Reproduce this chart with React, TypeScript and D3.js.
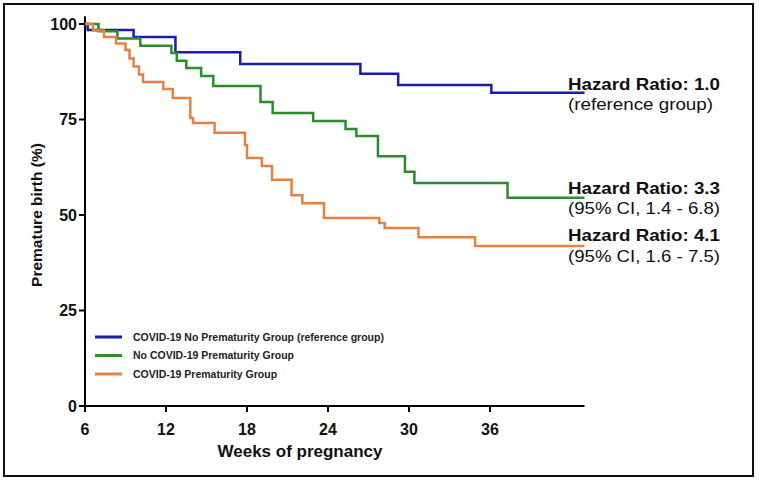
import React from "react";
import * as d3 from "d3";

const xTicks = [6, 12, 18, 24, 30, 36];
const yTicks = [0, 25, 50, 75, 100];

const blueWeeks = [6, 6.2, 9.6, 12.7, 17.5, 26.4, 29.2, 36.1];
const blueSurv = [100, 98.4, 96.6, 92.6, 89.5, 87.0, 84.0, 82.0];

const greenWeeks = [6, 7.0, 8.4, 10.1, 12.4, 12.8, 13.5, 14.6, 15.5, 19.0, 19.9, 22.9, 25.3, 26.1, 27.7, 29.7, 30.4, 37.3];
const greenSurv = [100, 98.1, 96.2, 94.3, 92.4, 90.4, 88.5, 86.4, 83.8, 79.6, 76.7, 74.6, 72.5, 70.7, 65.4, 61.3, 58.4, 54.5];

const orangeWeeks = [6, 6.6, 7.4, 8.3, 9.0, 9.3, 9.6, 10.0, 10.3, 11.8, 12.5, 13.8, 14.0, 15.6, 17.85, 18.0, 19.1, 19.85, 21.3, 22.1, 23.7, 27.8, 28.2, 30.7, 34.9];
const orangeSurv = [100, 98.3, 96.6, 94.9, 93.2, 91.0, 88.9, 86.8, 84.8, 83.0, 80.6, 75.4, 74.1, 71.5, 68.3, 64.9, 62.8, 59.2, 55.2, 53.1, 49.2, 47.9, 46.6, 44.2, 41.9];

const seriesNames = [
  "COVID-19 No Prematurity Group (reference group)",
  "No COVID-19 Prematurity Group",
  "COVID-19 Prematurity Group",
];
const hrTitles = ["Hazard Ratio: 1.0", "Hazard Ratio: 3.3", "Hazard Ratio: 4.1"];
const hrSubs = ["(reference group)", "(95% CI, 1.4 - 6.8)", "(95% CI, 1.6 - 7.5)"];

const X_MAX = 43;
const FONT = "'Liberation Sans', Arial, Helvetica, sans-serif";

export default function App() {
  const W = 759;
  const H = 482;
  const x = d3.scaleLinear().domain([6, X_MAX]).range([85, 584.5]);
  const y = d3.scaleLinear().domain([0, 100]).range([406, 24]);

  const series = [
    { weeks: blueWeeks, surv: blueSurv, color: "#1c1cb0" },
    { weeks: greenWeeks, surv: greenSurv, color: "#2a8c2a" },
    { weeks: orangeWeeks, surv: orangeSurv, color: "#e5823f" },
  ];

  const line = d3
    .line<[number, number]>()
    .x((d) => x(d[0]))
    .y((d) => y(d[1]))
    .curve(d3.curveStepAfter);

  const paths = series.map((s) => {
    const pts: [number, number][] = s.weeks.map((w, i) => [w, s.surv[i]]);
    pts.push([X_MAX, s.surv[s.surv.length - 1]]);
    return line(pts) || "";
  });

  const annY = [
    [90, 110],
    [194, 214],
    [241, 262],
  ];
  const titleLen = [152, 152, 152];
  const subLen = [145, 152, 152];

  return (
    <svg
      width={W}
      height={H}
      style={{ position: "absolute", left: 0, top: 0, background: "#fff" }}
      fontFamily={FONT}
    >
      <rect x={0} y={0} width={W} height={H} fill="#fff" />
      <rect x={4} y={4} width={749} height={472} fill="none" stroke="#111" strokeWidth={2} />

      {/* axes */}
      <line x1={x(6)} x2={x(6)} y1={y(102)} y2={y(0)} stroke="#000" strokeWidth={2} />
      <line x1={x(6) - 1} x2={x(X_MAX)} y1={y(0)} y2={y(0)} stroke="#000" strokeWidth={2} />
      {yTicks.map((t) => (
        <g key={"y" + t}>
          <line x1={x(6) - 6} x2={x(6)} y1={y(t)} y2={y(t)} stroke="#000" strokeWidth={2} />
          <text
            x={x(6) - 8}
            y={y(t)}
            dy="0.36em"
            textAnchor="end"
            fontSize={16}
            fontWeight="bold"
            fill="#111"
          >
            {t}
          </text>
        </g>
      ))}
      {xTicks.map((t) => (
        <g key={"x" + t}>
          <line x1={x(t)} x2={x(t)} y1={y(0)} y2={y(0) + 6} stroke="#000" strokeWidth={2} />
          <text x={x(t)} y={y(0) + 29} textAnchor="middle" fontSize={16} fontWeight="bold" fill="#111">
            {t}
          </text>
        </g>
      ))}
      <text x={300} y={457} textAnchor="middle" fontSize={17} fontWeight="bold" fill="#111">
        Weeks of pregnancy
      </text>
      <text
        transform={`translate(42,215) rotate(-90)`}
        textAnchor="middle"
        fontSize={15.5}
        fontWeight="bold"
        fill="#111"
      >
        Premature birth (%)
      </text>

      {/* curves */}
      {paths.map((p, i) => (
        <path key={i} d={p} fill="none" stroke={series[i].color} strokeWidth={2.5} />
      ))}

      {/* legend */}
      {seriesNames.map((n, i) => (
        <g key={n}>
          <line x1={95} x2={122} y1={337 + i * 18.5} y2={337 + i * 18.5} stroke={series[i].color} strokeWidth={3} />
          <text x={133} y={337 + i * 18.5} dy="0.35em" fontSize={10.5} fontWeight="bold" fill="#222">
            {n}
          </text>
        </g>
      ))}

      {/* annotations */}
      {hrTitles.map((t, i) => (
        <g key={t}>
          <text
            x={568}
            y={annY[i][0]}
            fontSize={16.5}
            fontWeight="bold"
            fill="#111"
            textLength={titleLen[i]}
            lengthAdjust="spacingAndGlyphs"
          >
            {t}
          </text>
          <text
            x={568}
            y={annY[i][1]}
            fontSize={16.5}
            fill="#111"
            textLength={subLen[i]}
            lengthAdjust="spacingAndGlyphs"
          >
            {hrSubs[i]}
          </text>
        </g>
      ))}
    </svg>
  );
}
